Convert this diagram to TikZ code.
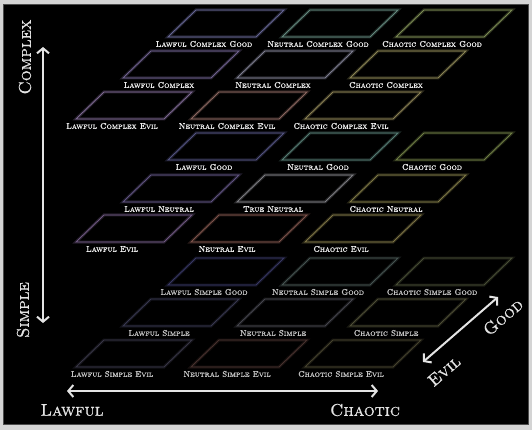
\documentclass[tikz,border=0pt]{standalone}
\usepackage{fontspec}
\usetikzlibrary{arrows.meta}
\newfontfamily\lblfont{lmromancaps10-regular.otf}[FakeBold=1.2]
\newfontfamily\axfont{lmromancaps10-regular.otf}[FakeBold=0.8]
\definecolor{pagegray}{HTML}{D4D4D4}
\definecolor{labelwhite}{HTML}{EEEEEE}
\definecolor{labeldim}{HTML}{C4C4C4}
\definecolor{axiswhite}{HTML}{E4E4E4}
% level 1 (complex)
\definecolor{aLG}{HTML}{6E6EA0}\definecolor{aNG}{HTML}{6C9488}\definecolor{aCG}{HTML}{86965A}
\definecolor{aLN}{HTML}{78699A}\definecolor{aNN}{HTML}{88889C}\definecolor{aCN}{HTML}{96905C}
\definecolor{aLE}{HTML}{86709C}\definecolor{aNE}{HTML}{967068}\definecolor{aCE}{HTML}{968C5C}
% level 2 (neutral)
\definecolor{bLG}{HTML}{5A5A8C}\definecolor{bNG}{HTML}{5E887E}\definecolor{bCG}{HTML}{78884A}
\definecolor{bLN}{HTML}{685A8C}\definecolor{bNN}{HTML}{88888E}\definecolor{bCN}{HTML}{88824C}
\definecolor{bLE}{HTML}{78608C}\definecolor{bNE}{HTML}{885A52}\definecolor{bCE}{HTML}{887E4C}
% level 3 (simple)
\definecolor{cLG}{HTML}{3C3C6C}\definecolor{cNG}{HTML}{4C5A58}\definecolor{cCG}{HTML}{4E543A}
\definecolor{cLN}{HTML}{3C3C56}\definecolor{cNN}{HTML}{4C4C54}\definecolor{cCN}{HTML}{54543A}
\definecolor{cLE}{HTML}{3C3A4C}\definecolor{cNE}{HTML}{4E3632}\definecolor{cCE}{HTML}{4C4832}
\tikzset{
  cellbox/.style={draw=#1, line width=0.7pt, line join=miter,
    preaction={draw=#1, line width=3pt, opacity=0.3}},
  celltext/.style={text=#1, font=\lblfont\fontsize{8.3}{9}\selectfont, inner sep=0pt},
  axisarrow/.style={draw=axiswhite, line width=2pt, {Straight Barb[length=5pt,width=12pt,line width=2pt]}-{Straight Barb[length=5pt,width=12pt,line width=2pt]}},
  axistext/.style={text=axiswhite, font=\axfont\fontsize{17}{19}\selectfont, inner sep=0pt}
}
\newcommand\mycell[6]{%
  \begin{scope}[shift={(#2,#3)}]
    \draw[cellbox=#4] (-36,-7) -- (52,-7) -- (80,-34) -- (-8,-34) -- cycle;
    \node[celltext=#5] (#1) at (0,0) {#6};
  \end{scope}}
\begin{document}
\begin{tikzpicture}[x=1pt,y=-1pt]
\fill[pagegray] (0,0) rectangle (532,430);
\useasboundingbox (0,0) rectangle (532,430);
\fill[black] (3,4) rectangle (528,424);
\draw[gray!60!black, line width=0.6pt] (3,4) rectangle (528,424);
% level 1: complex
\mycell{lcg}{204}{44}{aLG}{labelwhite}{Lawful Complex Good}
\mycell{ncg}{318}{44}{aNG}{labelwhite}{Neutral Complex Good}
\mycell{ccg}{432}{44}{aCG}{labelwhite}{Chaotic Complex Good}
\mycell{lc}{159}{85}{aLN}{labelwhite}{Lawful Complex}
\mycell{nc}{273}{85}{aNN}{labelwhite}{Neutral Complex}
\mycell{cc}{386}{85}{aCN}{labelwhite}{Chaotic Complex}
\mycell{lce}{112}{126}{aLE}{labelwhite}{Lawful Complex Evil}
\mycell{nce}{227}{126}{aNE}{labelwhite}{Neutral Complex Evil}
\mycell{cce}{341}{126}{aCE}{labelwhite}{Chaotic Complex Evil}
% level 2
\mycell{lg}{204}{167}{bLG}{labelwhite}{Lawful Good}
\mycell{ng}{318}{167}{bNG}{labelwhite}{Neutral Good}
\mycell{cg}{432}{167}{bCG}{labelwhite}{Chaotic Good}
\mycell{ln}{159}{209}{bLN}{labelwhite}{Lawful Neutral}
\mycell{tn}{273}{209}{bNN}{labelwhite}{True Neutral}
\mycell{cn}{386}{209}{bCN}{labelwhite}{Chaotic Neutral}
\mycell{le}{112}{249}{bLE}{labelwhite}{Lawful Evil}
\mycell{ne}{227}{249}{bNE}{labelwhite}{Neutral Evil}
\mycell{ce}{341}{249}{bCE}{labelwhite}{Chaotic Evil}
% level 3: simple
\mycell{lsg}{204}{292}{cLG}{labeldim}{Lawful Simple Good}
\mycell{nsg}{318}{292}{cNG}{labeldim}{Neutral Simple Good}
\mycell{csg}{432}{292}{cCG}{labeldim}{Chaotic Simple Good}
\mycell{ls}{159}{333}{cLN}{labeldim}{Lawful Simple}
\mycell{ns}{273}{333}{cNN}{labeldim}{Neutral Simple}
\mycell{cs}{386}{333}{cCN}{labeldim}{Chaotic Simple}
\mycell{lse}{112}{374}{cLE}{labeldim}{Lawful Simple Evil}
\mycell{nse}{227}{374}{cNE}{labeldim}{Neutral Simple Evil}
\mycell{cse}{341}{374}{cCE}{labeldim}{Chaotic Simple Evil}
% axes
\coordinate (vtop) at (43,47);
\coordinate (vbot) at (43,323);
\draw[axisarrow] (vbot) -- (vtop);
\node[axistext, rotate=90] (complex) at (25,57) {Complex};
\node[axistext, rotate=90] (simple) at (23,310) {Simple};
\coordinate (hl) at (67,391);
\coordinate (hr) at (378,391);
\draw[axisarrow] (hl) -- (hr);
\node[axistext] (lawful) at (72,410) {Lawful};
\node[axistext] (chaotic) at (365,410) {Chaotic};
\coordinate (devil) at (423,362);
\coordinate (dgood) at (498,297);
\draw[axisarrow] (devil) -- (dgood);
\node[axistext, rotate=41] (good) at (503,317) {Good};
\node[axistext, rotate=41] (evil) at (444,371) {Evil};
\end{tikzpicture}
\end{document}
